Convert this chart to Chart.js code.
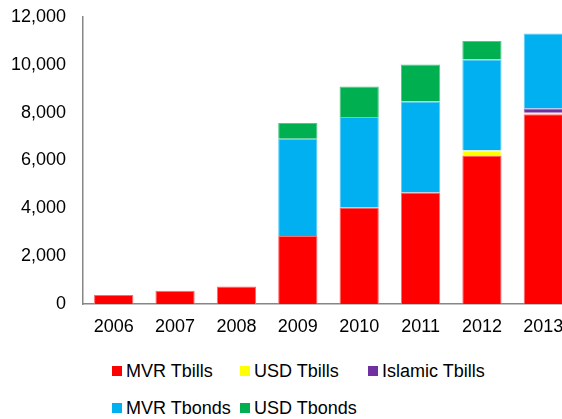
<!DOCTYPE html>
<html>
<head>
<meta charset="utf-8">
<script src="https://cdn.jsdelivr.net/npm/chart.js@4"></script>
<style>
  html, body { margin: 0; padding: 0; overflow: hidden; background: #fff; }
  #wrap { position: relative; width: 562px; height: 419px; overflow: hidden; }
  #chartCanvas { position: absolute; left: 0; top: 0; }
  .legend-item {
    position: absolute;
    font: 18px "Liberation Sans", Arial, sans-serif;
    color: #000;
    white-space: nowrap;
    line-height: 20px;
  }
  .legend-item span.box {
    position: absolute;
    left: 0; top: 5px;
    width: 10px; height: 10px;
  }
  .legend-item span.txt { position: absolute; left: 14px; top: 0; }
</style>
</head>
<body>
<div id="wrap">
  <canvas id="chartCanvas" width="574" height="340"></canvas>
  <div id="legend"></div>
</div>
<script>
// years on the x axis
const years = ['2006', '2007', '2008', '2009', '2010', '2011', '2012', '2013'];

// outstanding amounts per instrument (stacked)
const mvrTbills     = [380, 550, 730, 2840, 4030, 4660, 6210, 7930];
const usdTbills     = [null, null, null, null, null, null, 210, 70];
const islamicTbills = [null, null, null, null, null, null, null, 170];
const mvrTbonds     = [null, null, null, 4070, 3790, 3810, 3800, 3140];
const usdTbonds     = [null, null, null, 660, 1270, 1540, 780, null];

const seriesNames  = ['MVR Tbills', 'USD Tbills', 'Islamic Tbills', 'MVR Tbonds', 'USD Tbonds'];
const seriesColors = ['#FF0000', '#FFFF00', '#7030A0', '#00B0F0', '#00B050'];
const seriesEdges  = ['#FF6A6A', '#FFFF80', '#9A6CC0', '#5CCCF5', '#50C888'];

// y axis ticks
const yMax = 12000;
const yStep = 2000;

document.addEventListener('DOMContentLoaded', function() {
    const ctx = document.getElementById('chartCanvas').getContext('2d');
    const seriesData = [mvrTbills, usdTbills, islamicTbills, mvrTbonds, usdTbonds];

    const data = {
        labels: years,
        datasets: seriesNames.map((name, i) => ({
            label: name,
            data: seriesData[i],
            backgroundColor: seriesColors[i],
            borderColor: seriesEdges[i],
            borderWidth: 1,
            barPercentage: 1,
            categoryPercentage: 0.64
        }))
    };

    const font = { family: '"Liberation Sans", Arial, sans-serif', size: 18 };

    const config = {
        type: 'bar',
        data: data,
        options: {
            responsive: false,
            animation: false,
            devicePixelRatio: 1,
            layout: { padding: { top: 17, right: 0, bottom: 0, left: 0 } },
            plugins: {
                legend: { display: false },
                tooltip: { enabled: false }
            },
            scales: {
                x: {
                    stacked: true,
                    grid: { display: false, drawTicks: false },
                    border: { display: true, color: '#868686', width: 1.5 },
                    ticks: { color: '#000', font: font, padding: 12 },
                    afterFit: function(scale) {
                        scale.height = 36;
                        scale.paddingLeft = 0;
                        scale.paddingRight = 0;
                    }
                },
                y: {
                    stacked: true,
                    min: 0,
                    max: yMax,
                    grid: { display: false, drawTicks: false },
                    border: { display: true, color: '#868686', width: 1.5 },
                    ticks: {
                        stepSize: yStep,
                        color: '#000',
                        font: font,
                        padding: 17,
                        callback: v => v.toLocaleString('en-US')
                    },
                    // keep the plot edges fixed instead of padding for tick labels
                    afterFit: function(scale) {
                        scale.width = 83;
                        scale.paddingTop = 0;
                        scale.paddingBottom = 0;
                    }
                }
            }
        }
    };

    new Chart(ctx, config);

    // legend laid out in fixed columns below the plot
    const legend = document.getElementById('legend');
    seriesNames.forEach((name, i) => {
        const item = document.createElement('div');
        item.className = 'legend-item';
        item.style.left = (112 + (i % 3) * 128) + 'px';
        item.style.top = (361 + Math.floor(i / 3) * 37) + 'px';
        const box = document.createElement('span');
        box.className = 'box';
        box.style.background = seriesColors[i];
        const txt = document.createElement('span');
        txt.className = 'txt';
        txt.textContent = name;
        item.appendChild(box);
        item.appendChild(txt);
        legend.appendChild(item);
    });
});
</script>
</body>
</html>
